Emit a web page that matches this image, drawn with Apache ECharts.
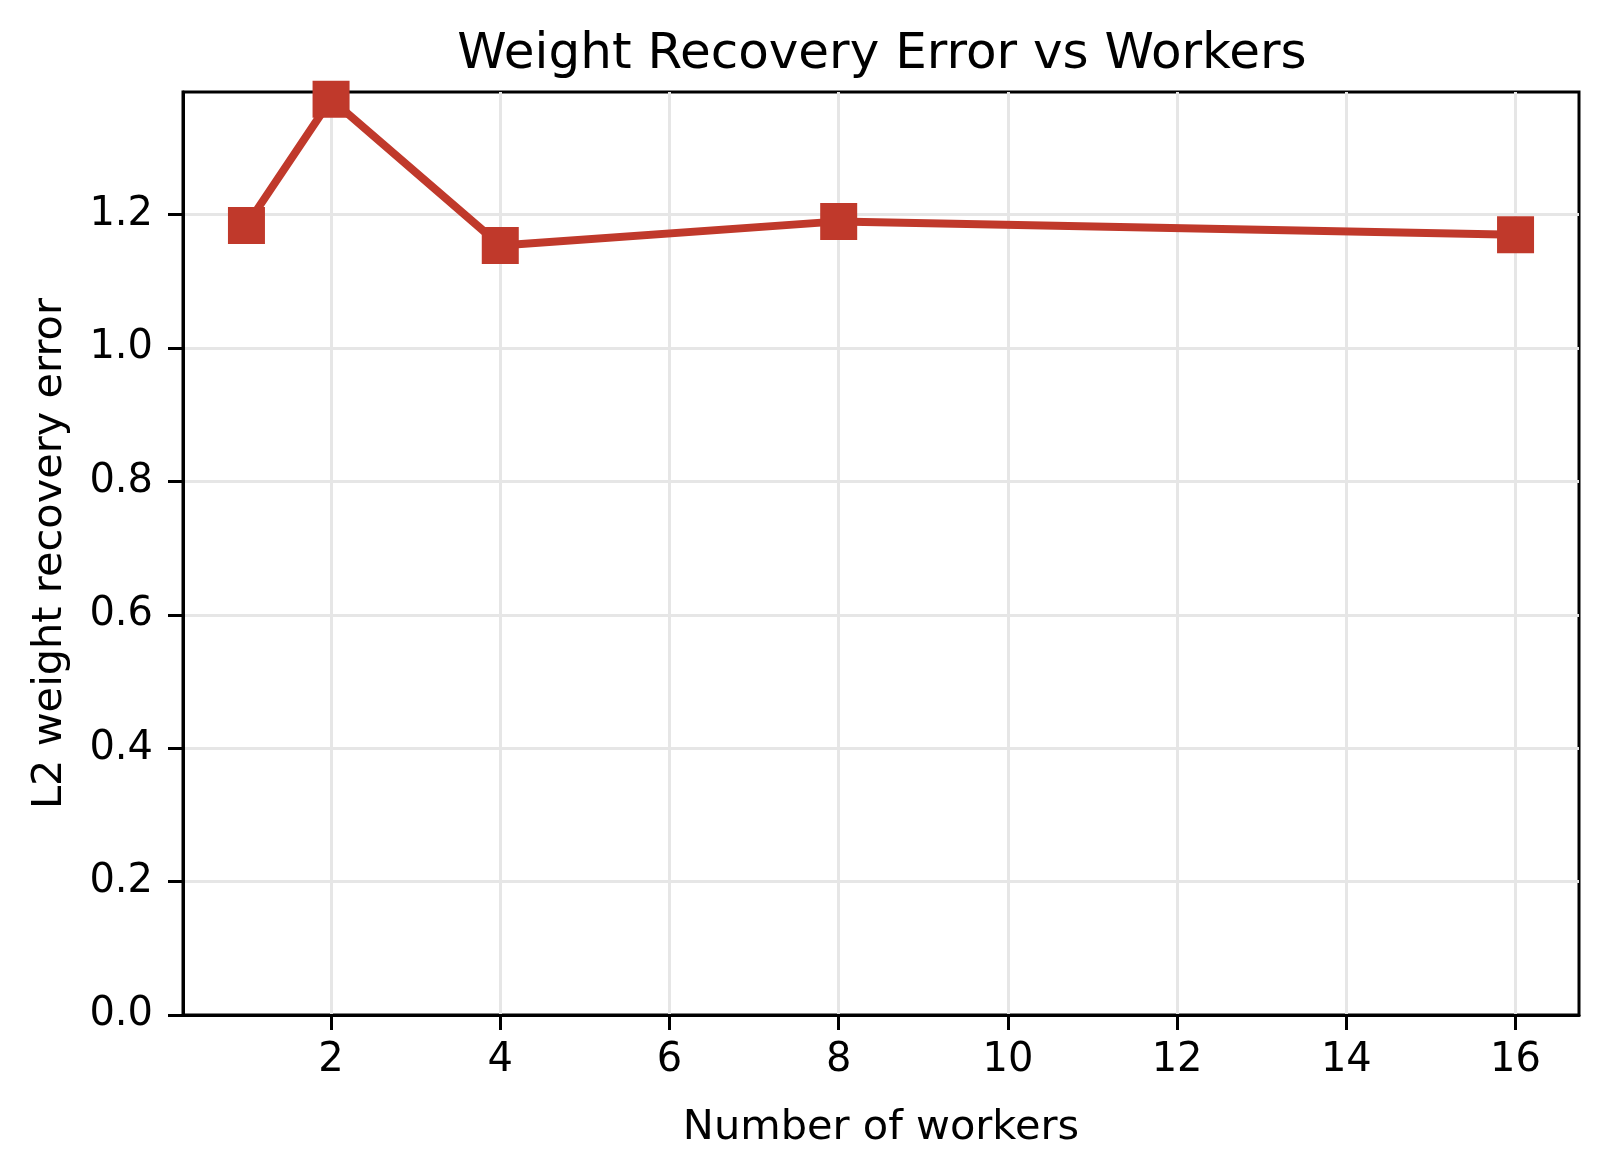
<!DOCTYPE html>
<html>
<head>
<meta charset="utf-8">
<script src="https://cdn.jsdelivr.net/npm/echarts@6/dist/echarts.min.js"></script>
<style>
html, body { margin: 0; padding: 0; background: #ffffff; }
#chart { width: 1609px; height: 1176px; }
</style>
</head>
<body>
<div id="chart"></div>
<script>
// data
var workers = [1, 2, 4, 8, 16];
var errors = [1.184, 1.373, 1.154, 1.190, 1.170];
var xTicks = [2, 4, 6, 8, 10, 12, 14, 16];
var yTicks = [0, 0.2, 0.4, 0.6, 0.8, 1.0, 1.2];

var font = 'DejaVu Sans';
var chart = echarts.init(document.getElementById('chart'));

chart.setOption({
    backgroundColor: '#ffffff',
    animation: false,
    title: {
        text: 'Weight Recovery Error vs Workers',
        left: 877,
        textAlign: 'center',
        top: 25,
        textStyle: { fontFamily: font, fontSize: 50, fontWeight: 'normal', color: '#000' }
    },
    grid: {
        left: 183, right: 30, top: 92, bottom: 161,
        show: true, borderColor: '#000', borderWidth: 3, backgroundColor: 'transparent'
    },
    xAxis: {
        type: 'value',
        min: 0.25,
        max: 16.75,
        name: 'Number of workers',
        nameLocation: 'middle',
        nameGap: 92,
        nameTextStyle: { fontFamily: font, fontSize: 41.5, color: '#000' },
        axisLine: { show: true, lineStyle: { color: '#000', width: 3 } },
        axisTick: { show: true, inside: false, length: 15, customValues: xTicks,
            lineStyle: { color: '#000', width: 3 } },
        axisLabel: { customValues: xTicks, margin: 26,
            fontFamily: font, fontSize: 40, color: '#000' },
        splitLine: { show: true, lineStyle: { color: '#e6e6e6', width: 3 } }
    },
    yAxis: {
        type: 'value',
        min: 0,
        max: 1.384,
        name: 'L2 weight recovery error',
        nameLocation: 'middle',
        nameGap: 112,
        nameTextStyle: { fontFamily: font, fontSize: 41.5, color: '#000' },
        axisLine: { show: true, lineStyle: { color: '#000', width: 3 } },
        axisTick: { show: true, inside: false, length: 15, customValues: yTicks,
            lineStyle: { color: '#000', width: 3 } },
        axisLabel: { customValues: yTicks, margin: 30,
            fontFamily: font, fontSize: 40, color: '#000',
            formatter: function (v) { return v.toFixed(1); } },
        splitLine: { show: true, lineStyle: { color: '#e6e6e6', width: 3 } }
    },
    series: [{
        type: 'line',
        data: workers.map(function (w, i) { return [w, errors[i]]; }),
        symbol: 'rect',
        symbolSize: 37,
        clip: true,
        lineStyle: { color: '#c0392b', width: 8 },
        itemStyle: { color: '#c0392b' }
    }]
});
</script>
</body>
</html>
